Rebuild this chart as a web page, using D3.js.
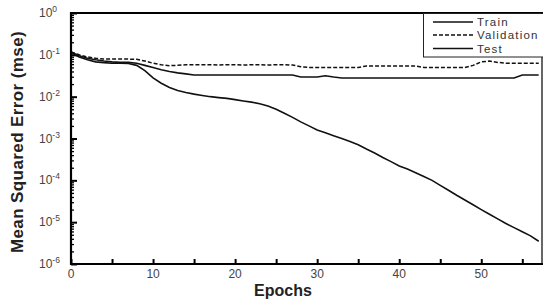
<!DOCTYPE html>
<html>
<head>
<meta charset="utf-8">
<script src="https://cdn.jsdelivr.net/npm/d3@7"></script>
<style>
body { margin: 0; background: #fff; }
svg { display: block; font-family: "Liberation Sans", Arial, sans-serif; }
</style>
</head>
<body>
<script>
// per-epoch mse
var epochs = d3.range(0, 58);
var train = [0.112, 0.089, 0.076, 0.068, 0.065, 0.063, 0.063, 0.062, 0.056, 0.042,
	0.028, 0.021, 0.0166, 0.0141, 0.0126, 0.0115, 0.0107, 0.0100, 0.0095, 0.0091,
	0.0085, 0.0079, 0.0074, 0.0068, 0.0060, 0.0050, 0.0040, 0.0032, 0.0025, 0.0020,
	0.0016, 0.00138, 0.00117, 0.00100, 0.00085, 0.00071, 0.00056, 0.00045, 0.00035, 0.00028,
	0.00022, 0.000186, 0.000151, 0.000123, 0.000100, 7.6e-5, 5.8e-5, 4.4e-5, 3.4e-5, 2.6e-5,
	2.0e-5, 1.55e-5, 1.2e-5, 9.3e-6, 7.4e-6, 5.9e-6, 4.7e-6, 3.5e-6];
var validation = [0.117, 0.100, 0.089, 0.083, 0.079, 0.079, 0.079, 0.079, 0.078, 0.071,
	0.063, 0.058, 0.055, 0.056, 0.058, 0.058, 0.058, 0.058, 0.057, 0.058,
	0.058, 0.057, 0.058, 0.058, 0.057, 0.058, 0.058, 0.057, 0.052, 0.050,
	0.050, 0.050, 0.050, 0.050, 0.050, 0.050, 0.054, 0.054, 0.054, 0.054,
	0.054, 0.054, 0.054, 0.050, 0.050, 0.050, 0.050, 0.050, 0.050, 0.056,
	0.068, 0.071, 0.066, 0.063, 0.063, 0.063, 0.063, 0.063];
var test = [0.117, 0.095, 0.083, 0.076, 0.071, 0.068, 0.066, 0.066, 0.063, 0.056,
	0.050, 0.044, 0.040, 0.037, 0.035, 0.033, 0.033, 0.033, 0.033, 0.033,
	0.033, 0.033, 0.033, 0.033, 0.033, 0.033, 0.033, 0.033, 0.0295, 0.0295,
	0.0295, 0.0316, 0.0295, 0.028, 0.028, 0.028, 0.028, 0.028, 0.028, 0.028,
	0.028, 0.028, 0.028, 0.028, 0.028, 0.028, 0.028, 0.028, 0.028, 0.028,
	0.028, 0.028, 0.028, 0.028, 0.028, 0.033, 0.033, 0.033];
var xTicks = [0, 10, 20, 30, 40, 50];
var yTicks = [0, -1, -2, -3, -4, -5, -6]; // exponents
var seriesNames = ['Train', 'Validation', 'Test'];

var svg = d3.select('body').append('svg')
	.attr('width', 543)
	.attr('height', 302);

var x = d3.scaleLinear().domain([0, 57.4]).range([71, 542]);
var y = d3.scaleLog().domain([1e-6, 1]).range([264, 13]);

// minor log ticks
var minors = [];
yTicks.slice(1).forEach(function(e) {
	for (var k = 2; k <= 9; k++) minors.push(k * Math.pow(10, e));
});

svg.append('g')
	.attr('transform', 'translate(71,0)')
	.call(d3.axisRight(y).tickValues(minors).tickSize(3).tickFormat(''))
	.call(function(g) { g.select('.domain').remove(); })
	.selectAll('line').attr('stroke', '#000').attr('stroke-width', 1.3);

svg.append('g')
	.attr('transform', 'translate(71,0)')
	.call(d3.axisRight(y).tickValues(yTicks.map(function(e) { return Math.pow(10, e); })).tickSize(6).tickFormat(''))
	.call(function(g) { g.select('.domain').remove(); })
	.selectAll('line').attr('stroke', '#000').attr('stroke-width', 2);

// y tick labels with superscripts
var yl = svg.append('g').selectAll('text')
	.data(yTicks)
	.enter().append('text')
	.attr('x', 39)
	.attr('y', function(e) { return y(Math.pow(10, e)) + 4; })
	.attr('fill', '#444')
	.attr('font-size', 12);
yl.append('tspan').text('10');
yl.append('tspan')
	.attr('dy', -5)
	.attr('font-size', 8.5)
	.text(function(e) { return e === 0 ? '0' : '-' + Math.abs(e); });

// x axis ticks
svg.append('g')
	.attr('transform', 'translate(0,264)')
	.call(d3.axisTop(x).tickValues(d3.range(0, 57, 5)).tickSize(5).tickFormat(''))
	.call(function(g) { g.select('.domain').remove(); })
	.selectAll('line').attr('stroke', '#000').attr('stroke-width', 2);

svg.append('g').selectAll('text')
	.data(xTicks)
	.enter().append('text')
	.attr('x', function(d) { return x(d); })
	.attr('y', 278)
	.attr('text-anchor', 'middle')
	.attr('fill', '#444')
	.attr('font-size', 12)
	.text(function(d) { return d; });

// lines
var line = function(vals) {
	return d3.line()
		.x(function(d, i) { return x(epochs[i]); })
		.y(function(d) { return y(d); })
		.curve(d3.curveLinear)(vals);
};

svg.append('path').attr('d', line(validation))
	.attr('fill', 'none').attr('stroke', '#111').attr('stroke-width', 1.5)
	.attr('stroke-dasharray', '4,2');
svg.append('path').attr('d', line(test))
	.attr('fill', 'none').attr('stroke', '#111').attr('stroke-width', 1.6);
svg.append('path').attr('d', line(train))
	.attr('fill', 'none').attr('stroke', '#111').attr('stroke-width', 1.6);

// frame
svg.append('line').attr('x1', 71).attr('x2', 543).attr('y1', 13).attr('y2', 13)
	.attr('stroke', '#000').attr('stroke-width', 2);
svg.append('line').attr('x1', 71).attr('x2', 71).attr('y1', 12).attr('y2', 265)
	.attr('stroke', '#000').attr('stroke-width', 2.2);
svg.append('line').attr('x1', 70).attr('x2', 543).attr('y1', 264).attr('y2', 264)
	.attr('stroke', '#000').attr('stroke-width', 2.2);
svg.append('line').attr('x1', 542).attr('x2', 542).attr('y1', 13).attr('y2', 264)
	.attr('stroke', '#000').attr('stroke-width', 1.2);

// legend
var lg = svg.append('g');
lg.append('rect')
	.attr('x', 423.5).attr('y', 13.5).attr('width', 130).attr('height', 43.5)
	.attr('fill', '#fff').attr('stroke', '#222').attr('stroke-width', 1);
var rowsY = [22, 35, 48.5];
var dashes = [null, '4,2', null];
seriesNames.forEach(function(name, i) {
	lg.append('line')
		.attr('x1', 433).attr('x2', 473)
		.attr('y1', rowsY[i]).attr('y2', rowsY[i])
		.attr('stroke', '#111').attr('stroke-width', 1.6)
		.attr('stroke-dasharray', dashes[i]);
	lg.append('text')
		.attr('x', 477).attr('y', rowsY[i] + 4)
		.attr('font-size', 11.5)
		.attr('letter-spacing', 1.2)
		.attr('fill', '#333')
		.text(name);
});

// axis titles
svg.append('text')
	.attr('x', 283).attr('y', 296)
	.attr('text-anchor', 'middle')
	.attr('font-size', 16).attr('font-weight', 'bold')
	.attr('fill', '#222')
	.text('Epochs');
svg.append('text')
	.attr('transform', 'translate(23,142) rotate(-90)')
	.attr('text-anchor', 'middle')
	.attr('font-size', 17).attr('font-weight', 'bold')
	.attr('letter-spacing', 0.4)
	.attr('fill', '#222')
	.text('Mean Squared Error (mse)');
</script>
</body>
</html>
